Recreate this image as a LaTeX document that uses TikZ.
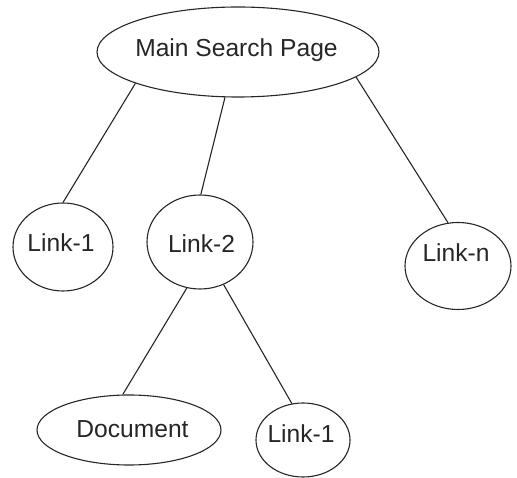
\documentclass[tikz,border=0pt]{standalone}
\usepackage{fontspec}
\setmainfont{Liberation Sans}
\usetikzlibrary{shapes.geometric}
\begin{document}
\begin{tikzpicture}[x=1pt,y=-1pt,
  oval/.style={ellipse, draw=black!85, line width=1.1pt, inner sep=0pt},
  txt/.style={inner sep=0pt, text height=17.6pt, text depth=0pt,
              font=\fontsize{24.6}{29}\selectfont, text=black!85},
  conn/.style={draw=black!85, line width=1.1pt}]
\useasboundingbox (0,0) rectangle (517,478);
% shapes
\node[oval, minimum width=282pt, minimum height=90pt] (m)   at (238,52)  {};
\node[oval, minimum width=100pt, minimum height=88pt] (l1)  at (63,247)  {};
\node[oval, minimum width=106pt, minimum height=94pt] (l2)  at (200,242) {};
\node[oval, minimum width=106pt, minimum height=87pt] (ln)  at (458,266) {};
\node[oval, minimum width=184pt, minimum height=70pt] (doc) at (129,430) {};
\node[oval, minimum width=94pt,  minimum height=74pt] (l1b) at (303,440) {};
% texts
\node[txt] (mt)   at (236.5,47.5) {Main Search Page};
\node[txt] (l1t)  at (61,242.5)   {Link-1};
\node[txt] (l2t)  at (201.5,244)  {Link-2};
\node[txt] (lnt)  at (456,252.5)  {Link-n};
\node[txt] (doct) at (132.5,429)  {Document};
\node[txt] (l1bt) at (301,433.5)  {Link-1};
% connectors
\draw[conn] (m.197) -- (l1.90);
\draw[conn] (m.254) -- (l2.89);
\draw[conn] (m.348) -- (ln.103);
\draw[conn] (l2.254) -- (doc.100);
\draw[conn] (l2.299) -- (l1b.107);
\end{tikzpicture}
\end{document}
